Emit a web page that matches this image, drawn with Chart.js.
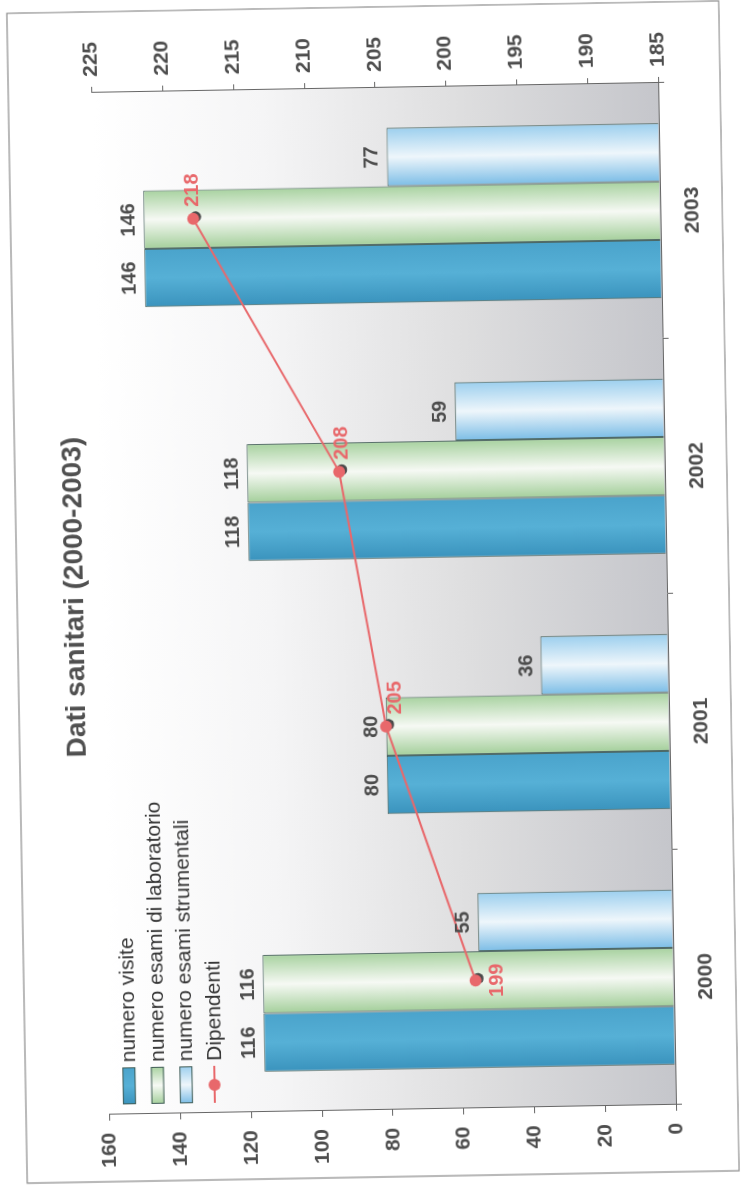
<!DOCTYPE html>
<html lang="it">
<head>
<meta charset="utf-8">
<title>Dati sanitari (2000-2003)</title>
<script src="https://cdn.jsdelivr.net/npm/chart.js@4.4.1/dist/chart.umd.min.js"></script>
<style>
    html, body { margin: 0; padding: 0; background: #fff; }
    body { width: 742px; height: 1191px; overflow: hidden; position: relative; }
    /* the sheet is printed sideways */
    #sheet { position: absolute; left: -213px; top: 235px; width: 1172px; height: 714px; transform: rotate(-91deg); }
</style>
</head>
<body>
<div id="sheet"><canvas id="chartBar" width="1172" height="714"></canvas></div>
<script>
var categories = ['2000', '2001', '2002', '2003'];
var seriesNames = ['numero visite', 'numero esami di laboratorio', 'numero esami strumentali', 'Dipendenti'];
var visite = [116, 80, 118, 146];
var esamiLab = [116, 80, 118, 146];
var esamiStrum = [55, 36, 59, 77];
var dipendenti = [199, 205, 208, 218];
var leftTicks = [0, 20, 40, 60, 80, 100, 120, 140, 160];
var rightTicks = [185, 190, 195, 200, 205, 210, 215, 220, 225];

var GROUP = 0.685;
var FONT = '"Liberation Sans", Arial, sans-serif';
var lineColor = '#e8686b';
var barEdge = '#3f5b55';
// left edge, middle, right edge of each bar
var fills = [
    ['#3a93bd', '#56b0d6', '#4aa3cb'],
    ['#a4cf9b', '#f6f9f4', '#a8d2a0'],
    ['#7cbde6', '#eef6fb', '#9ccfee']
];
// where the red labels sit next to their marker, and how far they drop
var lineLabelSide = ['below', 'right', 'right', 'right'];
var lineLabelDrop = [0, 10, 3, 0];

Chart.defaults.font.family = FONT;

function shade(ctx, left, width, stops) {
    var g = ctx.createLinearGradient(left, 0, left + width, 0);
    g.addColorStop(0, stops[0]);
    g.addColorStop(0.5, stops[1]);
    g.addColorStop(1, stops[2]);
    return g;
}

function barFill(i) {
    return function (c) {
        var chart = c.chart;
        var area = chart.chartArea;
        if (c.type !== 'data' || !area || !chart.scales.x) return fills[i][1];
        var group = (area.right - area.left) / categories.length * GROUP;
        var bw = group / 3;
        var left = chart.scales.x.getPixelForValue(c.dataIndex) - group / 2 + i * bw;
        if (!isFinite(left)) return fills[i][1];
        return shade(chart.ctx, left, bw, fills[i]);
    };
}

var plotBackground = {
    id: 'plotBackground',
    beforeDraw: function (chart) {
        var ctx = chart.ctx, a = chart.chartArea;
        ctx.save();
        ctx.strokeStyle = '#8c8c8c';
        ctx.lineWidth = 1.2;
        ctx.strokeRect(1, 1, chart.width - 2, chart.height - 2);
        var g = ctx.createLinearGradient(0, a.top, 0, a.bottom);
        g.addColorStop(0, '#ffffff');
        g.addColorStop(0.3, '#f5f5f6');
        g.addColorStop(0.65, '#dededf');
        g.addColorStop(1, '#c5c6cb');
        ctx.fillStyle = g;
        ctx.fillRect(a.left, a.top, a.right - a.left, a.bottom - a.top);
        ctx.restore();
    },
    beforeDatasetDraw: function (chart, args) {
        // dark shadow under the markers of the line
        if (chart.data.datasets[args.index].type !== 'line') return;
        var ctx = chart.ctx;
        ctx.save();
        ctx.fillStyle = '#4a4a4a';
        args.meta.data.forEach(function (pt) {
            ctx.beginPath();
            ctx.arc(pt.x + 2, pt.y + 2.5, 5.5, 0, Math.PI * 2);
            ctx.fill();
        });
        ctx.restore();
    }
};

var valueLabels = {
    id: 'valueLabels',
    afterDatasetsDraw: function (chart) {
        var ctx = chart.ctx;
        ctx.save();
        ctx.font = 'bold 20px ' + FONT;
        chart.data.datasets.forEach(function (ds, i) {
            var meta = chart.getDatasetMeta(i);
            meta.data.forEach(function (el, j) {
                if (ds.type === 'line') {
                    ctx.fillStyle = lineColor;
                    if (lineLabelSide[j] === 'below') {
                        ctx.textAlign = 'center';
                        ctx.textBaseline = 'top';
                        ctx.fillText(ds.data[j], el.x, el.y + 12);
                    } else {
                        ctx.textAlign = 'left';
                        ctx.textBaseline = 'middle';
                        ctx.fillText(ds.data[j], el.x + 12, el.y + lineLabelDrop[j]);
                    }
                } else {
                    ctx.fillStyle = '#4d4d4d';
                    ctx.textAlign = 'center';
                    ctx.textBaseline = 'alphabetic';
                    ctx.fillText(ds.data[j], el.x, el.y - 9);
                }
            });
        });
        ctx.restore();
    }
};

var insideLegend = {
    id: 'insideLegend',
    afterDraw: function (chart) {
        var ctx = chart.ctx, a = chart.chartArea;
        var x = a.left + 10, y = a.top + 20;
        ctx.save();
        ctx.font = '21px ' + FONT;
        ctx.textAlign = 'left';
        ctx.textBaseline = 'middle';
        chart.data.datasets.forEach(function (ds, i) {
            var cy = y + i * 28.5;
            if (ds.type === 'line') {
                ctx.strokeStyle = lineColor;
                ctx.lineWidth = 2;
                ctx.beginPath();
                ctx.moveTo(x, cy);
                ctx.lineTo(x + 37, cy);
                ctx.stroke();
                ctx.fillStyle = lineColor;
                ctx.beginPath();
                ctx.arc(x + 18, cy, 6, 0, Math.PI * 2);
                ctx.fill();
            } else {
                ctx.fillStyle = shade(ctx, x, 37, fills[i]);
                ctx.fillRect(x, cy - 6.5, 37, 13);
                ctx.strokeStyle = barEdge;
                ctx.lineWidth = 1;
                ctx.strokeRect(x + 0.5, cy - 6, 36, 12);
            }
            ctx.fillStyle = '#333333';
            ctx.fillText(ds.label, x + 42, cy + 1);
        });
        ctx.restore();
    }
};

function barSet(i, values) {
    return {
        type: 'bar',
        label: seriesNames[i],
        data: values,
        yAxisID: 'y',
        order: 1,
        backgroundColor: barFill(i),
        borderColor: barEdge,
        borderWidth: 1,
        barPercentage: 1,
        categoryPercentage: GROUP
    };
}

var axisGrid = { display: true, drawOnChartArea: false, drawTicks: true, tickLength: 6, color: '#666' };
var axisBorder = { display: true, color: '#666' };
var tickFont = { size: 21, weight: 'bold' };

var ctx = document.getElementById('chartBar').getContext('2d');
var myChart = new Chart(ctx, {
    type: 'bar',
    data: {
        labels: categories,
        datasets: [
            barSet(0, visite),
            barSet(1, esamiLab),
            barSet(2, esamiStrum),
            {
                type: 'line',
                label: seriesNames[3],
                data: dipendenti,
                yAxisID: 'y1',
                order: 0,
                borderColor: lineColor,
                borderWidth: 2,
                pointRadius: 6,
                pointBackgroundColor: lineColor,
                pointBorderWidth: 0,
                tension: 0
            }
        ]
    },
    options: {
        responsive: false,
        animation: false,
        devicePixelRatio: 1,
        layout: { padding: { top: 10, left: 0, right: 0, bottom: 0 } },
        plugins: {
            legend: { display: false },
            tooltip: { enabled: false },
            title: {
                display: true,
                text: 'Dati sanitari (2000-2003)',
                color: '#505050',
                font: { size: 28, weight: 'bold' },
                padding: { top: 32, bottom: 9 }
            }
        },
        scales: {
            x: {
                grid: axisGrid,
                border: axisBorder,
                ticks: { color: '#4d4d4d', font: tickFont, padding: 14 },
                afterFit: function (s) { s.height = 63; }
            },
            y: {
                position: 'left',
                min: 0,
                max: 160,
                grid: axisGrid,
                border: axisBorder,
                ticks: { color: '#4d4d4d', font: tickFont, padding: 12 },
                afterBuildTicks: function (s) { s.ticks = leftTicks.map(function (v) { return { value: v }; }); },
                afterFit: function (s) { s.width = 68; }
            },
            y1: {
                position: 'right',
                min: 185,
                max: 225,
                grid: axisGrid,
                border: axisBorder,
                ticks: { color: '#4d4d4d', font: tickFont, padding: 10 },
                afterBuildTicks: function (s) { s.ticks = rightTicks.map(function (v) { return { value: v }; }); },
                afterFit: function (s) { s.width = 82; }
            }
        }
    },
    plugins: [plotBackground, valueLabels, insideLegend]
});
</script>
</body>
</html>
